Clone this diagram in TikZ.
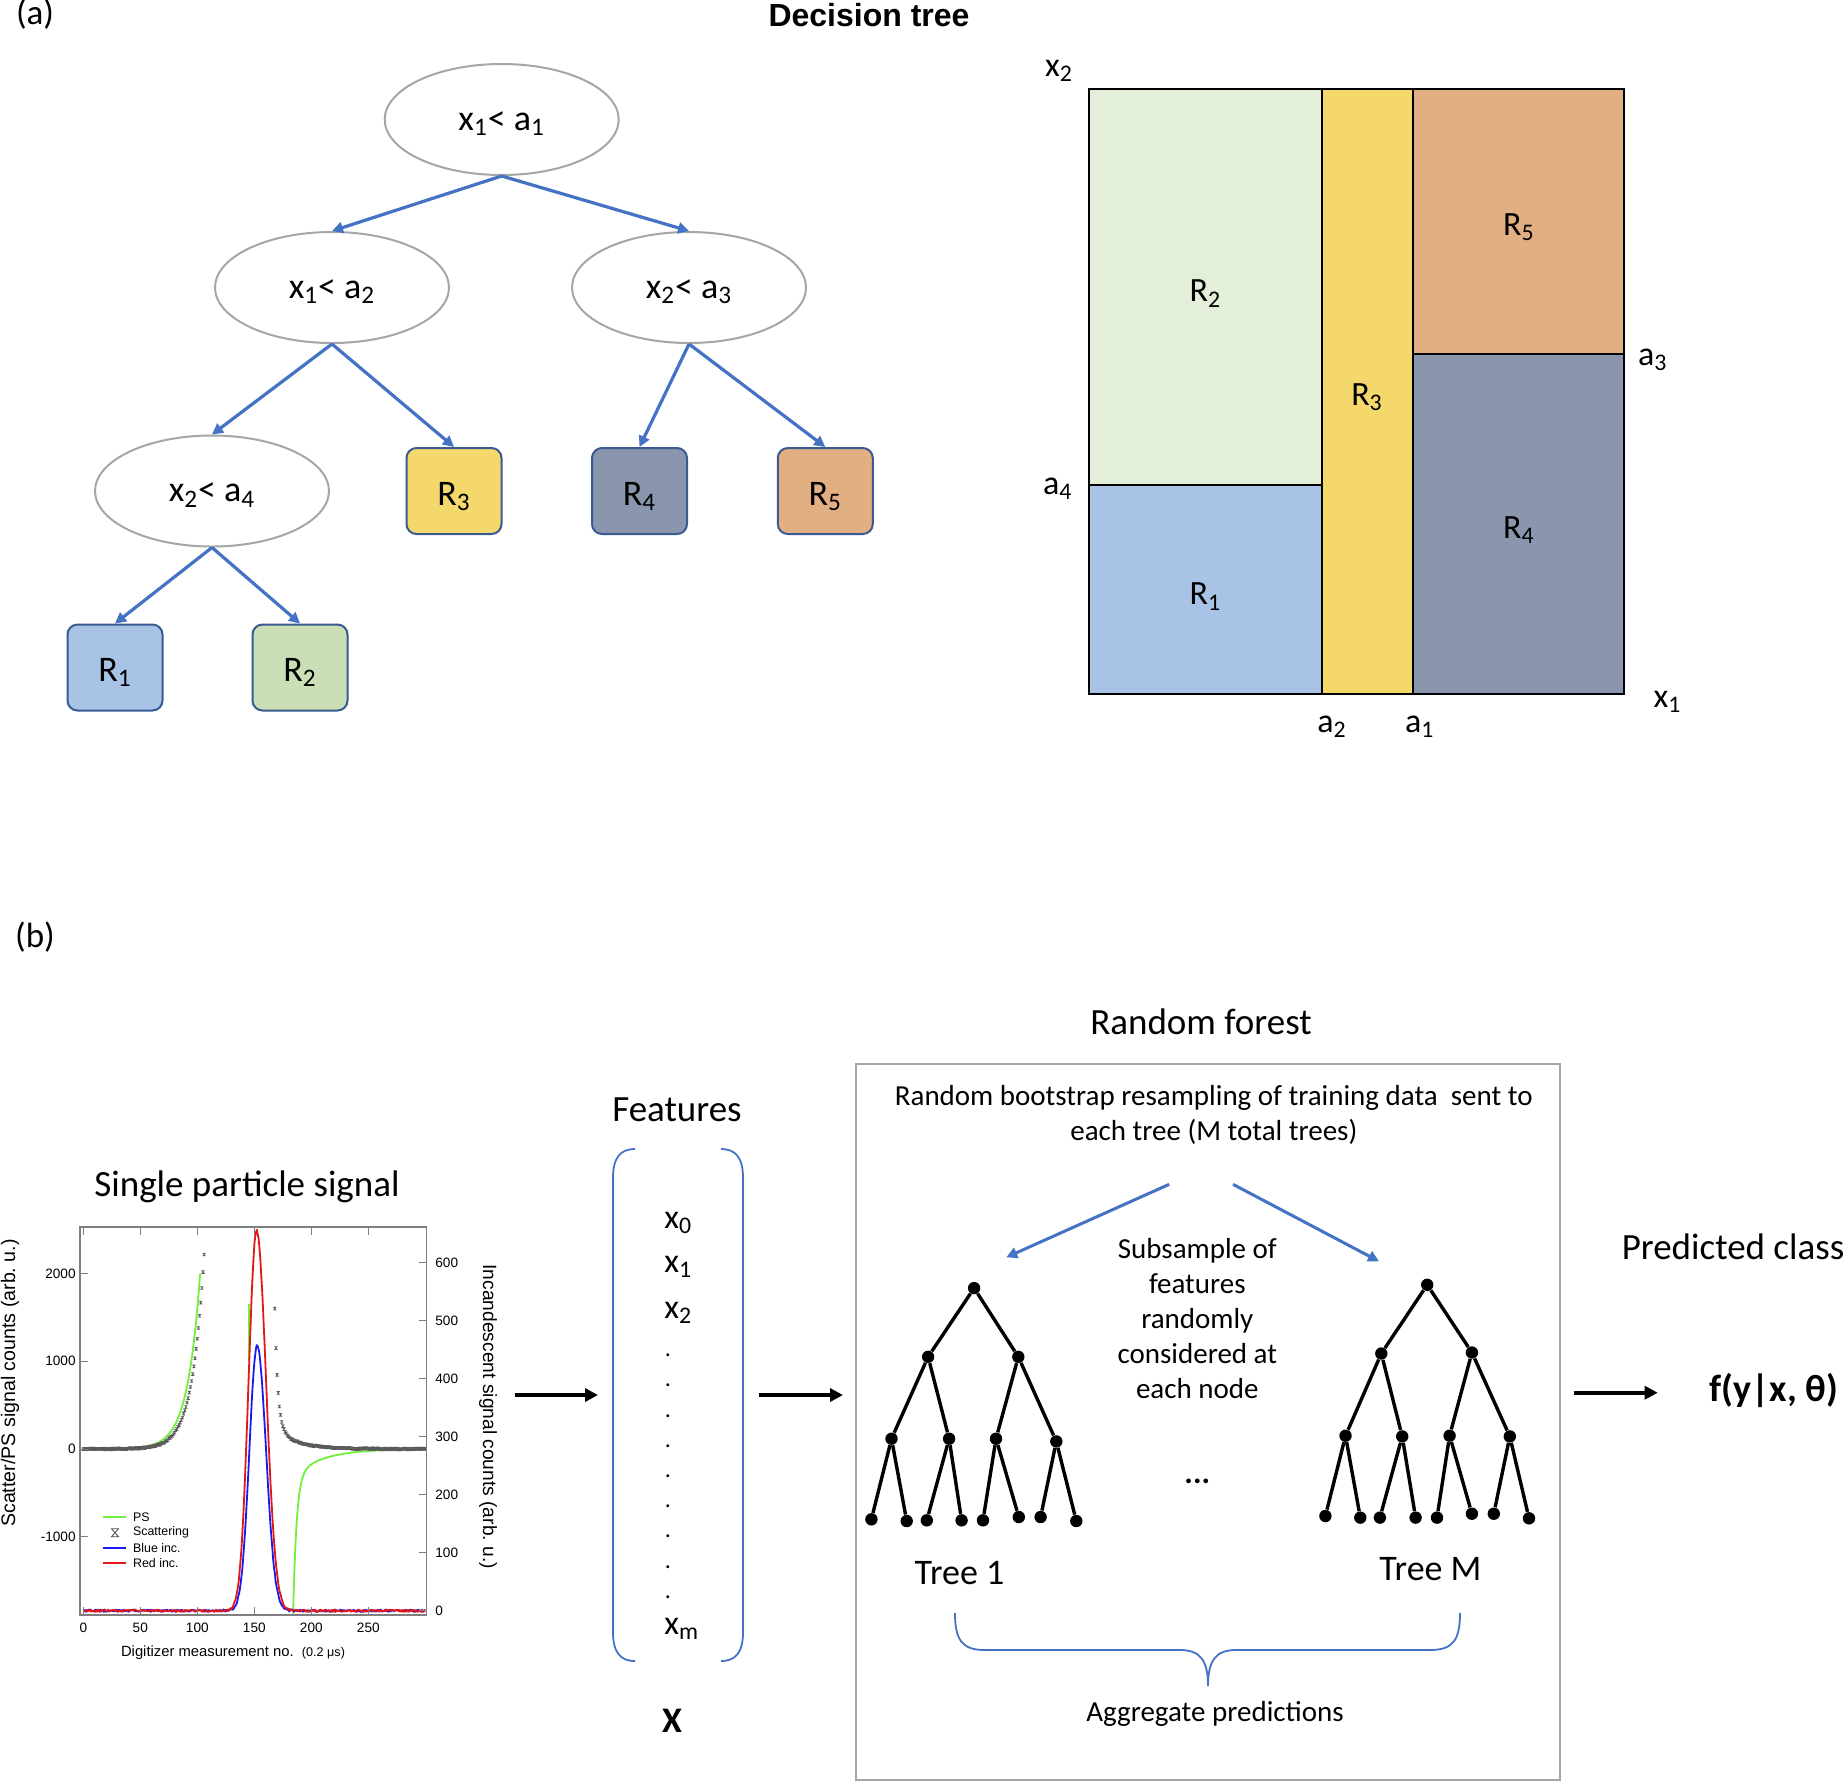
\documentclass[tikz,border=0pt]{standalone}
\usepackage{fontspec}
\setmainfont{Carlito}
\newfontfamily\arialf{Liberation Sans}
\usetikzlibrary{arrows.meta,shapes.geometric}

\definecolor{tblue}{HTML}{4472C4}
\definecolor{condgray}{HTML}{A6A6A6}
\definecolor{leafedge}{HTML}{3A5A92}
\definecolor{cRone}{HTML}{A9C3E6}
\definecolor{cRtwo}{HTML}{CADFB6}
\definecolor{cRtwoL}{HTML}{E3EFD9}
\definecolor{cRthree}{HTML}{F4D86C}
\definecolor{cRfour}{HTML}{8A96AE}
\definecolor{cRfive}{HTML}{E2AF83}
\definecolor{psgreen}{HTML}{72F03C}
\definecolor{incblue}{HTML}{1A1AF0}
\definecolor{incred}{HTML}{E01818}
\definecolor{framegray}{HTML}{7F7F7F}
\definecolor{boxgray}{HTML}{A6A6A6}

\newcommand\fBig{\fontsize{18.5}{22}\selectfont}
\newcommand\fMid{\fontsize{14.5}{17.55}\selectfont}
\newcommand\fTree{\fontsize{18}{21}\selectfont}
\newcommand\fReg{\fontsize{17}{20}\selectfont}
\newcommand\fAx{\arialf\fontsize{6.8}{8}\selectfont}
\newcommand\fLeg{\arialf\fontsize{6.2}{7}\selectfont}

\begin{document}
\begin{tikzpicture}[x=0.5pt,y=-0.5pt,
  cond/.style={ellipse, draw=condgray, line width=1pt, minimum width=117pt, minimum height=55.5pt, inner sep=0pt, font=\fTree, text height=13pt, text depth=2.1pt},
  leaf/.style={rectangle, rounded corners=5pt, draw=leafedge, line width=1pt, minimum width=47.5pt, minimum height=43pt, inner sep=0pt, font=\fTree, text height=16pt, text depth=2pt},
  tarrow/.style={draw=tblue, line width=1.6pt, -{Triangle[length=5.5pt,width=5.5pt]}},
  region/.style={draw=black, line width=1pt},
  reglab/.style={font=\fReg, inner sep=0pt},
  bigt/.style={font=\fBig, inner sep=0pt},
  midt/.style={font=\fMid, inner sep=0pt},
  blkarrow/.style={draw=black, line width=2pt, -{Triangle[length=6.5pt,width=6.5pt]}},
  tdot/.style={circle, fill=black, inner sep=0pt, minimum size=6.2pt},
  tedge/.style={draw=black, line width=1.7pt},
  brk/.style={draw=tblue, line width=0.9pt},
  ticklab/.style={font=\fAx, inner sep=0pt},
  axtick/.style={draw=framegray, line width=0.5pt},
  scatmark/.style={draw=black!65, line width=0.3pt},
  curve/.style={line width=0.9pt, line join=round},
  featt/.style={font=\fontsize{17}{20}\selectfont, inner sep=0pt, anchor=base west},
]
\useasboundingbox (0,0) rectangle (1846,1784);
\fill[white] (0,0) rectangle (1846,1784);

% ---------------- (a) ----------------
\node[inner sep=0pt, font=\fontsize{17.5}{21}\selectfont] (pa) at (35,14) {(a)};
\node[inner sep=0pt, font={\arialf\bfseries\fontsize{16}{19}\selectfont}] (dtitle) at (869,15) {Decision tree};

\node[cond] (n0) at (501.7,119.5) {x\textsubscript{1}< a\textsubscript{1}};
\node[cond] (n1) at (332,287.5) {x\textsubscript{1}< a\textsubscript{2}};
\node[cond] (n2) at (689,287.5) {x\textsubscript{2}< a\textsubscript{3}};
\node[cond] (n3) at (212,491) {x\textsubscript{2}< a\textsubscript{4}};

\node[leaf, fill=cRthree] (b3) at (454,491) {R\textsubscript{3}};
\node[leaf, fill=cRfour] (b4) at (639.5,491) {R\textsubscript{4}};
\node[leaf, fill=cRfive] (b5) at (825.3,491) {R\textsubscript{5}};
\node[leaf, fill=cRone] (b1) at (115,667.5) {R\textsubscript{1}};
\node[leaf, fill=cRtwo] (b2) at (300,667.5) {R\textsubscript{2}};

\draw[tarrow] (n0.south) -- (n1.north);
\draw[tarrow] (n0.south) -- (n2.north);
\draw[tarrow] (n1.south) -- (n3.north);
\draw[tarrow] (n1.south) -- (b3.north);
\draw[tarrow] (n2.south) -- (b4.north);
\draw[tarrow] (n2.south) -- (b5.north);
\draw[tarrow] (n3.south) -- (b1.north);
\draw[tarrow] (n3.south) -- (b2.north);

% partition
\path[region, fill=cRtwoL] (1089.4,89) rectangle (1322.4,485.4);
\path[region, fill=cRone] (1089.4,485.4) rectangle (1322.4,694.3);
\path[region, fill=cRthree] (1322.4,89) rectangle (1413,694.3);
\path[region, fill=cRfive] (1413,89) rectangle (1624.2,353.6);
\path[region, fill=cRfour] (1413,353.6) rectangle (1624.2,694.3);

\node[reglab] (lr2) at (1205.4,293.5) {R\textsubscript{2}};
\node[reglab] (lr1) at (1205.4,596.5) {R\textsubscript{1}};
\node[reglab] (lr3) at (1367,397) {R\textsubscript{3}};
\node[reglab] (lr5) at (1518.8,227) {R\textsubscript{5}};
\node[reglab] (lr4) at (1518.8,530) {R\textsubscript{4}};
\node[reglab] (ax2) at (1059,71) {x\textsubscript{2}};
\node[reglab] (aa4) at (1057.7,488.6) {a\textsubscript{4}};
\node[reglab] (aa3) at (1652.8,360) {a\textsubscript{3}};
\node[reglab] (ax1) at (1667.5,702) {x\textsubscript{1}};
\node[reglab] (aa2) at (1332,727) {a\textsubscript{2}};
\node[reglab] (aa1) at (1419.7,727) {a\textsubscript{1}};

% ---------------- (b) ----------------
\node[inner sep=0pt, font=\fontsize{17.5}{21}\selectfont] (pb) at (35,937) {(b)};
\node[bigt] (sps) at (247,1186.5) {Single particle signal};

% plot curves
\pgfmathsetseed{7}
\begin{scope}
\clip (80,1227) rectangle (426.7,1615);
\begin{scope}[shift={(83.3,1449)}, x=0.57pt, y=0.04385pt]
  \draw[psgreen, curve] plot[domain=0:102.5, samples=150] (\x, {2000*exp((\x-102.5)/11.2)});
  \draw[psgreen, curve] (145,1650) -- (145,1000);
  \draw[psgreen, curve] plot[domain=183.5:300, samples=200] (\x, {-1890*exp(-min((\x-183.5)/3,12)) - 250*exp(-(\x-190)/25)});
  \foreach \u in {0,...,106}{
    \pgfmathsetmacro\vv{2223*exp(max((\u-106)/10.5,-12))+6*rand}
    \draw[scatmark] (\u,\vv) ++(-0.6pt,-0.7pt) -- ++(1.2pt,0pt) -- ++(-1.2pt,1.4pt) -- ++(1.2pt,0pt) -- cycle;
  }
  \foreach \u in {168,...,300}{
    \pgfmathsetmacro\vv{1350*exp(-min((\u-168)/2.6,12))+250*exp(-min((\u-168)/18,12))+6*rand}
    \draw[scatmark] (\u,\vv) ++(-0.6pt,-0.7pt) -- ++(1.2pt,0pt) -- ++(-1.2pt,1.4pt) -- ++(1.2pt,0pt) -- cycle;
  }
\end{scope}
\begin{scope}[shift={(83.3,1610.7)}, x=0.57pt, y=0.29pt]
  \draw[incblue, curve] plot[domain=0:300, samples=401] (\x, {457*exp(-min(0.5*((\x-152.5)/(\x<152.5?6.8:7.8))*((\x-152.5)/(\x<152.5?6.8:7.8)),12)) + 2*rand});
  \draw[incred, curve] plot[domain=0:300, samples=401] (\x, {655*exp(-min(0.5*((\x-152)/(\x<152?7.0:8.3))*((\x-152)/(\x<152?7.0:8.3)),12)) + 2*rand});
\end{scope}
\end{scope}

% frame, ticks, labels
\node[draw=framegray, line width=0.6pt, minimum width=173.35pt, minimum height=194pt, inner sep=0pt] (plotbox) at (253.35,1421) {};
\foreach \t in {0,50,...,250}{
  \draw[axtick] ({83.3+1.14*\t},1615) -- ++(0,-8);
  \draw[axtick] ({83.3+1.14*\t},1227) -- ++(0,8);
  \node[ticklab] (xt\t) at ({83.3+1.14*\t},1628) {\t};
}
\foreach \v in {-1000,0,1000,2000}{
  \draw[axtick] (80,{1449-0.0877*\v}) -- ++(8,0);
  \node[ticklab, anchor=east] (lt\v) at (76,{1449-0.0877*\v}) {\v};
}
\foreach \w in {0,100,...,600}{
  \draw[axtick] (426.7,{1610.7-0.58*\w}) -- ++(-8,0);
  \node[ticklab, anchor=west] (rt\w) at (435,{1610.7-0.58*\w}) {\w};
}
\node[inner sep=0pt, rotate=90, font={\arialf\fontsize{9.8}{12}\selectfont}] (ylab) at (10,1383) {Scatter/PS signal counts (arb.\ u.)};
\node[inner sep=0pt, rotate=-90, font={\arialf\fontsize{9.6}{12}\selectfont}] (ylabr) at (488,1416.7) {Incandescent signal counts (arb.\ u.)};
\node[inner sep=0pt, font={\arialf\fontsize{7.4}{9}\selectfont}] (xlab) at (233,1653) {Digitizer measurement no.\ \ {\fontsize{6.3}{8}\selectfont (0.2 μs)}};

% legend
\draw[psgreen, line width=0.9pt] (103.3,1517.3) -- (126,1517.3);
\node[font=\fLeg, inner sep=0pt, anchor=west] (lg1) at (132.7,1517.3) {PS};
\draw[black!70, line width=0.4pt] (111.5,1528.7) -- (118.5,1528.7) -- (111.5,1536.7) -- (118.5,1536.7) -- cycle;
\node[font=\fLeg, inner sep=0pt, anchor=west] (lg2) at (132.7,1532.7) {Scattering};
\draw[incblue, line width=0.9pt] (103.3,1547.7) -- (126,1547.7);
\node[font=\fLeg, inner sep=0pt, anchor=west] (lg3) at (132.7,1547.7) {Blue inc.};
\draw[incred, line width=0.9pt] (103.3,1562.7) -- (126,1562.7);
\node[font=\fLeg, inner sep=0pt, anchor=west] (lg4) at (132.7,1562.7) {Red inc.};

% features
\node[bigt] (feat) at (677,1110) {Features};
\draw[brk] (635,1149) .. controls (620,1149) and (613,1158) .. (613,1178) -- (613,1632) .. controls (613,1652) and (620,1661) .. (635,1661);
\draw[brk] (721,1149) .. controls (736,1149) and (743,1158) .. (743,1178) -- (743,1632) .. controls (743,1652) and (736,1661) .. (721,1661);
\node[featt] (f0) at (664,1228) {x\textsubscript{0}};
\node[featt] (f1) at (664,1272) {x\textsubscript{1}};
\node[featt] (f2) at (664,1318) {x\textsubscript{2}};
\node[inner sep=0pt, anchor=north west, align=left, font=\fontsize{12}{15.1}\selectfont] (fdots) at (664.5,1353.6) {.\\.\\.\\.\\.\\.\\.\\.\\.};
\node[featt] (fm) at (664,1634) {x\textsubscript{m}};
\node[inner sep=0pt, font={\bfseries\fontsize{18}{21}\selectfont}] (bigx) at (672,1721) {X};

% black arrows
\coordinate (a1s) at (514.5,1395);
\coordinate (a1e) at (598,1395);
\coordinate (a2s) at (759.4,1395);
\coordinate (a2e) at (843,1395);
\coordinate (a3s) at (1574,1392.7);
\coordinate (a3e) at (1657.7,1392.7);
\draw[blkarrow] (a1s) -- (a1e);
\draw[blkarrow] (a2s) -- (a2e);
\draw[blkarrow] (a3s) -- (a3e);

% random forest
\node[bigt] (rftitle) at (1201,1021.5) {Random forest};
\node[draw=boxgray, line width=1pt, minimum width=352pt, minimum height=358pt, inner sep=0pt] (rfbox) at (1208,1422) {};
\node[midt, align=center] (rftext) at (1213.8,1115) {Random bootstrap resampling of training data\ \ sent to\\each tree (M total trees)};
\coordinate (bl1) at (1169.2,1184.3);
\coordinate (bl2) at (1006.3,1257.3);
\coordinate (br1) at (1233,1184.3);
\coordinate (br2) at (1379,1261.3);
\draw[tarrow, line width=1.5pt] (bl1) -- (bl2);
\draw[tarrow, line width=1.5pt] (br1) -- (br2);
\node[midt, align=center] (subs) at (1197.3,1318.5) {Subsample of\\features\\randomly\\considered at\\each node};
\node[inner sep=0pt, font={\bfseries\fontsize{16}{19}\selectfont}] (ell) at (1197.3,1481) {...};

% tree 1
\node[tdot] (ta) at (974.1,1288.1) {};
\node[tdot] (tb) at (928.1,1356.8) {};
\node[tdot] (tc) at (1018.3,1356.8) {};
\node[tdot] (td) at (891.5,1438.7) {};
\node[tdot] (te) at (949.1,1438.7) {};
\node[tdot] (tf) at (996,1438.7) {};
\node[tdot] (tg) at (1056.3,1441.4) {};
\foreach \xx/\yy [count=\k] in {871.4/1519.3,906.7/1521,926.8/1520.3,961.6/1520.3,983/1520.3,1018.8/1517,1040.6/1517,1076.3/1521}{
  \node[tdot] (tl\k) at (\xx,\yy) {};
}
\draw[tedge] (ta) -- (tb); \draw[tedge] (ta) -- (tc);
\draw[tedge] (tb) -- (td); \draw[tedge] (tb) -- (te);
\draw[tedge] (tc) -- (tf); \draw[tedge] (tc) -- (tg);
\draw[tedge] (td) -- (tl1); \draw[tedge] (td) -- (tl2);
\draw[tedge] (te) -- (tl3); \draw[tedge] (te) -- (tl4);
\draw[tedge] (tf) -- (tl5); \draw[tedge] (tf) -- (tl6);
\draw[tedge] (tg) -- (tl7); \draw[tedge] (tg) -- (tl8);

% tree M
\node[tdot] (ma) at (1427.2,1284.8) {};
\node[tdot] (mb) at (1381.3,1353.5) {};
\node[tdot] (mc) at (1471.9,1352.5) {};
\node[tdot] (md) at (1345.5,1435.7) {};
\node[tdot] (me) at (1402.2,1436.4) {};
\node[tdot] (mf) at (1449.6,1435.7) {};
\node[tdot] (mg) at (1509.8,1436.4) {};
\foreach \xx/\yy [count=\k] in {1325.4/1516,1360.3/1517.6,1379.9/1517.6,1415.6/1517.6,1437/1517.6,1471.9/1513.7,1493.8/1513.7,1529/1518.3}{
  \node[tdot] (ml\k) at (\xx,\yy) {};
}
\draw[tedge] (ma) -- (mb); \draw[tedge] (ma) -- (mc);
\draw[tedge] (mb) -- (md); \draw[tedge] (mb) -- (me);
\draw[tedge] (mc) -- (mf); \draw[tedge] (mc) -- (mg);
\draw[tedge] (md) -- (ml1); \draw[tedge] (md) -- (ml2);
\draw[tedge] (me) -- (ml3); \draw[tedge] (me) -- (ml4);
\draw[tedge] (mf) -- (ml5); \draw[tedge] (mf) -- (ml6);
\draw[tedge] (mg) -- (ml7); \draw[tedge] (mg) -- (ml8);

\node[inner sep=0pt, font=\fTree] (tr1) at (959.5,1572.7) {Tree 1};
\node[inner sep=0pt, font=\fTree] (trm) at (1430.4,1569) {Tree M};

% brace
\draw[brk] (955,1613) .. controls (955,1640) and (962,1650) .. (985,1650) -- (1180,1650) .. controls (1200,1650) and (1208,1660) .. (1208,1686) .. controls (1208,1660) and (1216,1650) .. (1236,1650) -- (1430,1650) .. controls (1453,1650) and (1460,1640) .. (1460,1613);
\node[midt] (aggr) at (1215,1714) {Aggregate predictions};

% output
\node[bigt] (pcl) at (1733,1246.8) {Predicted class};
\node[inner sep=0pt, font={\bfseries\fontsize{19}{22}\selectfont}] (fout) at (1774,1390) {f(y|x, θ)};
\end{tikzpicture}
\end{document}
